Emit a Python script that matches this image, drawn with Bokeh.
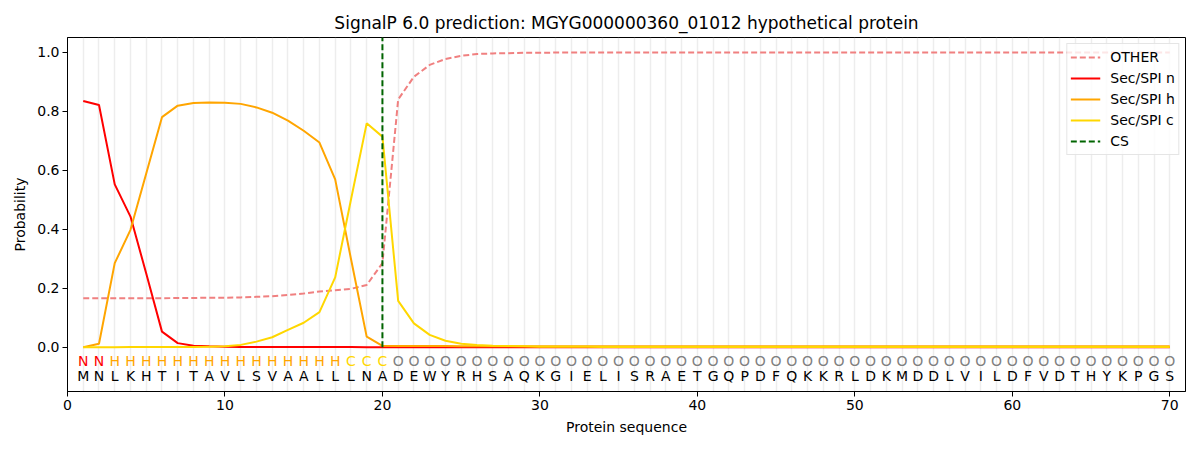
from bokeh.plotting import figure
from bokeh.models import FixedTicker, Range1d, Legend, LegendItem, ColumnDataSource, PrintfTickFormatter
from bokeh.core.properties import value
from bokeh.embed import file_html
from bokeh.resources import INLINE

sequence = "MNLKHTITAVLSVAALLLNADEWYRHSAQKGIELISRAETGQPDFQKKRLDKMDDLVILDFVDTHYKPGS"
region_labels = "NNHHHHHHHHHHHHHHHCCCOOOOOOOOOOOOOOOOOOOOOOOOOOOOOOOOOOOOOOOOOOOOOOOOOO"
cleavage_site = 20

other = [0.166, 0.166, 0.166, 0.166, 0.166, 0.166, 0.167, 0.167, 0.168, 0.168,
         0.169, 0.171, 0.173, 0.177, 0.182, 0.189, 0.193, 0.198, 0.211, 0.285,
         0.840, 0.917, 0.957, 0.977, 0.988, 0.994, 0.996, 0.997, 0.998, 0.998,
         0.999, 0.999, 0.999, 0.999, 0.999, 0.999, 0.999, 0.999, 0.999, 0.999,
         0.999, 0.999, 0.999, 0.999, 0.999, 0.999, 0.999, 0.999, 0.999, 0.999,
         0.999, 0.999, 0.999, 0.999, 0.999, 0.999, 0.999, 0.999, 0.999, 0.999,
         0.999, 0.999, 0.999, 0.999, 0.999, 0.999, 0.999, 0.999, 0.999, 0.999]

sec_n = [0.835, 0.821, 0.552, 0.443, 0.250, 0.053, 0.014, 0.005, 0.003, 0.002,
         0.001, 0.001, 0.001, 0.001, 0.001, 0.001, 0.001, 0.001, 0.000, 0.000,
         0.000, 0.000, 0.000, 0.000, 0.000, 0.000, 0.000, 0.000, 0.000, 0.000,
         0.000, 0.000, 0.000, 0.000, 0.000, 0.000, 0.000, 0.000, 0.000, 0.000,
         0.000, 0.000, 0.000, 0.000, 0.000, 0.000, 0.000, 0.000, 0.000, 0.000,
         0.000, 0.000, 0.000, 0.000, 0.000, 0.000, 0.000, 0.000, 0.000, 0.000,
         0.000, 0.000, 0.000, 0.000, 0.000, 0.000, 0.000, 0.000, 0.000, 0.000]

sec_h = [0.000, 0.012, 0.285, 0.398, 0.589, 0.780, 0.819, 0.828, 0.830, 0.829,
         0.825, 0.813, 0.795, 0.768, 0.734, 0.694, 0.569, 0.300, 0.036, 0.005,
         0.004, 0.004, 0.004, 0.004, 0.003, 0.003, 0.003, 0.003, 0.003, 0.003,
         0.003, 0.003, 0.003, 0.003, 0.003, 0.003, 0.003, 0.003, 0.003, 0.003,
         0.003, 0.003, 0.003, 0.003, 0.003, 0.003, 0.003, 0.003, 0.003, 0.003,
         0.003, 0.003, 0.003, 0.003, 0.003, 0.003, 0.003, 0.003, 0.003, 0.003,
         0.003, 0.003, 0.003, 0.003, 0.003, 0.003, 0.003, 0.003, 0.003, 0.003]

sec_c = [0.000, 0.000, 0.000, 0.001, 0.001, 0.001, 0.001, 0.001, 0.002, 0.003,
         0.008, 0.019, 0.034, 0.059, 0.083, 0.119, 0.237, 0.500, 0.759, 0.714,
         0.157, 0.081, 0.042, 0.022, 0.012, 0.008, 0.005, 0.004, 0.003, 0.002,
         0.002, 0.002, 0.002, 0.001, 0.001, 0.001, 0.001, 0.001, 0.001, 0.001,
         0.001, 0.001, 0.001, 0.001, 0.001, 0.001, 0.001, 0.001, 0.001, 0.001,
         0.001, 0.001, 0.001, 0.001, 0.001, 0.001, 0.001, 0.001, 0.001, 0.001,
         0.001, 0.001, 0.001, 0.001, 0.001, 0.001, 0.001, 0.001, 0.001, 0.001]

x_ticks = [0, 10, 20, 30, 40, 50, 60, 70]
y_ticks = [0.0, 0.2, 0.4, 0.6, 0.8, 1.0]

FONT = "DejaVu Sans"
positions = list(range(1, len(sequence) + 1))
label_colors = {"N": "red", "H": "orange", "C": "gold", "O": "gray"}

Y_MIN, Y_MAX = -0.15, 1.05
LABEL_Y = -0.046
SEQ_Y = -0.098

p = figure(width=1190, height=434, output_backend="svg", toolbar_location=None,
           x_range=Range1d(0, 71), y_range=Range1d(Y_MIN, Y_MAX),
           min_border_left=67, min_border_right=5, min_border_top=37, min_border_bottom=43,
           title="SignalP 6.0 prediction: MGYG000000360_01012 hypothetical protein")
p.frame_width = 1118
p.frame_height = 354

p.title.align = "center"
p.title.text_font = FONT
p.title.text_font_size = "17px"
p.title.text_font_style = "normal"
p.title.text_color = "black"

p.outline_line_color = "black"
p.outline_line_alpha = 1.0
p.outline_line_width = 1

p.ygrid.visible = False
p.xgrid.ticker = FixedTicker(ticks=positions)
p.xgrid.grid_line_color = "#d8d8d8"
p.xgrid.grid_line_alpha = 0.45
p.xgrid.grid_line_width = 1.5

for ax in (p.xaxis[0], p.yaxis[0]):
    ax.axis_line_color = "black"
    ax.major_tick_line_color = "black"
    ax.minor_tick_line_color = None
    ax.major_tick_out = 5
    ax.major_tick_in = 0
    ax.major_label_standoff = 3
    ax.major_label_text_font = FONT
    ax.major_label_text_font_size = "14px"
    ax.major_label_text_color = "black"
    ax.axis_label_text_font = FONT
    ax.axis_label_text_font_size = "14px"
    ax.axis_label_text_font_style = "normal"
    ax.axis_label_text_color = "black"

p.xaxis.ticker = FixedTicker(ticks=x_ticks)
p.yaxis.ticker = FixedTicker(ticks=y_ticks)
p.yaxis.formatter = PrintfTickFormatter(format="%.1f")
p.xaxis.axis_label = "Protein sequence"
p.yaxis.axis_label = "Probability"
p.xaxis.axis_label_standoff = 6
p.yaxis.axis_label_standoff = 6

src = ColumnDataSource(dict(x=positions, other=other, n=sec_n, h=sec_h, c=sec_c))

r_other = p.line("x", "other", source=src, line_color="#f08080", line_width=2, line_dash="6 3")
r_n = p.line("x", "n", source=src, line_color="red", line_width=2)
r_h = p.line("x", "h", source=src, line_color="orange", line_width=2)
r_c = p.line("x", "c", source=src, line_color="gold", line_width=2)
r_cs = p.segment(x0=[cleavage_site], y0=[0], x1=[cleavage_site], y1=[Y_MAX],
                 line_color="darkgreen", line_width=2, line_dash="6 3")

txt = ColumnDataSource(dict(
    x=positions,
    ly=[LABEL_Y] * len(positions),
    sy=[SEQ_Y] * len(positions),
    lab=list(region_labels),
    seq=list(sequence),
    lc=[label_colors[c] for c in region_labels],
))
p.text(x="x", y="ly", text="lab", source=txt, text_color="lc", text_align="center",
       text_baseline="middle", text_font=value(FONT), text_font_size="14px")
p.text(x="x", y="sy", text="seq", source=txt, text_color="black", text_align="center",
       text_baseline="middle", text_font=value(FONT), text_font_size="14px")

legend = Legend(items=[
    LegendItem(label="OTHER", renderers=[r_other]),
    LegendItem(label="Sec/SPI n", renderers=[r_n]),
    LegendItem(label="Sec/SPI h", renderers=[r_h]),
    LegendItem(label="Sec/SPI c", renderers=[r_c]),
    LegendItem(label="CS", renderers=[r_cs]),
], location="top_right")
legend.label_text_font = FONT
legend.label_text_font_size = "14px"
legend.label_text_color = "black"
legend.border_line_color = "#cccccc"
legend.border_line_width = 1
legend.background_fill_alpha = 0.8
legend.margin = 6
legend.padding = 3
legend.spacing = 1
legend.label_height = 20
legend.glyph_height = 20
legend.glyph_width = 30
legend.label_standoff = 10
p.add_layout(legend)

open("out.html", "w").write(file_html(p, INLINE))
